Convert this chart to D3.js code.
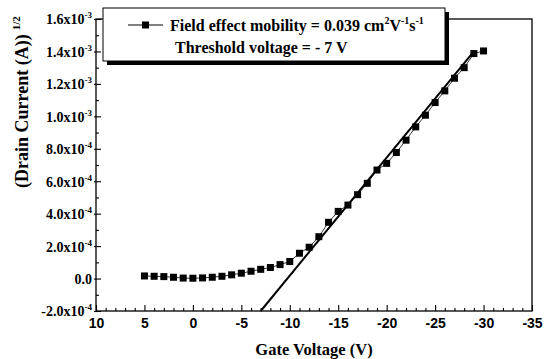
<!DOCTYPE html>
<html>
<head>
<meta charset="utf-8">
<script src="https://cdn.jsdelivr.net/npm/d3@7"></script>
<style>
  body { margin: 0; background: #fff; }
  .serif { font-family: 'Liberation Serif', 'Times New Roman', Times, 'DejaVu Serif', serif; font-weight: bold; }
  .sans { font-family: 'Liberation Sans', Arial, sans-serif; font-weight: bold; }
</style>
</head>
<body>
<div id="container"></div>
<script>
const width = 551;
const height = 359;

// measured points: gate voltage (V) vs sqrt of drain current
const gateVoltage = [5, 4, 3, 2, 1, 0, -1, -2, -3, -4, -5, -6, -7, -8, -9, -10, -11, -12,
  -13, -14, -15, -16, -17, -18, -19, -20, -21, -22, -23, -24, -25, -26, -27, -28, -29, -30];
const sqrtCurrent = [1.6e-5, 1.4e-5, 1.2e-5, 8e-6, 3e-6, 2e-6, 4e-6, 8e-6, 1.4e-5, 2.3e-5,
  3.3e-5, 4.5e-5, 5.7e-5, 6.8e-5, 8.6e-5, 1.05e-4, 1.56e-4, 1.93e-4, 2.58e-4, 3.47e-4,
  4.14e-4, 4.53e-4, 5.17e-4, 5.87e-4, 6.69e-4, 7.1e-4, 7.77e-4, 8.53e-4, 9.35e-4, 1.007e-3,
  1.085e-3, 1.157e-3, 1.235e-3, 1.3e-3, 1.387e-3, 1.403e-3];

// linear fit (threshold extraction)
const fitVoltage = [-7, -29];
const fitCurrent = [-2e-4, 1.4e-3];

const xTicks = [10, 5, 0, -5, -10, -15, -20, -25, -30, -35];
const xTickLabels = ['10', '5', '0', '-5', '-10', '-15', '-20', '-25', '-30', '-35'];
const yTicks = [-2e-4, 0, 2e-4, 4e-4, 6e-4, 8e-4, 1e-3, 1.2e-3, 1.4e-3, 1.6e-3];
const yTickMantissa = ['-2.0x10', '0.0', '2.0x10', '4.0x10', '6.0x10', '8.0x10', '1.0x10', '1.2x10', '1.4x10', '1.6x10'];
const yTickExponent = ['-4', '', '-4', '-4', '-4', '-4', '-3', '-3', '-3', '-3'];

const x = d3.scaleLinear().domain([10, -35]).range([96, 532]);
const y = d3.scaleLinear().domain([-2e-4, 1.6e-3]).range([311, 19]);

const svg = d3.select('#container')
  .append('svg')
  .attr('width', width)
  .attr('height', height);

// frame
svg.append('rect')
  .attr('x', x(10)).attr('y', y(1.6e-3))
  .attr('width', x(-35) - x(10)).attr('height', y(-2e-4) - y(1.6e-3))
  .attr('fill', 'none').attr('stroke', '#000').attr('stroke-width', 1.3);

// x axis
const xAxis = svg.append('g')
  .attr('transform', `translate(0,${y(-2e-4)})`)
  .call(d3.axisBottom(x).tickValues(d3.range(10, -36, -1)).tickSize(-3).tickSizeOuter(0).tickFormat(''));
xAxis.select('.domain').remove();
xAxis.selectAll('.tick line').attr('stroke-width', 1.1);
xAxis.selectAll('.tick').filter(d => xTicks.includes(d)).select('line').attr('y2', -6);
xAxis.selectAll('.tick').filter(d => xTicks.includes(d)).select('text')
  .text(d => xTickLabels[xTicks.indexOf(d)])
  .attr('class', 'sans')
  .attr('y', 7)
  .attr('dy', '0.71em')
  .attr('font-size', 14)
  .attr('fill', '#000');

// y axis
const yAxis = svg.append('g')
  .attr('transform', `translate(${x(10)},0)`)
  .call(d3.axisLeft(y).tickValues(d3.range(-2e-4, 1.6e-3 + 1e-9, 1e-4)).tickSize(-3).tickSizeOuter(0).tickFormat(''));
yAxis.select('.domain').remove();
yAxis.selectAll('.tick line').attr('stroke-width', 1.1);
const majorY = yAxis.selectAll('.tick')
  .filter(d => yTicks.some(t => Math.abs(t - d) < 1e-9));
majorY.select('line').attr('x1', -2).attr('x2', 5);
majorY.select('text').each(function(d) {
  const i = yTicks.findIndex(t => Math.abs(t - d) < 1e-9);
  const t = d3.select(this)
    .text(null)
    .attr('class', 'serif')
    .attr('x', -4)
    .attr('dy', '0.35em')
    .attr('text-anchor', 'end')
    .attr('font-size', 14)
    .attr('fill', '#000');
  t.append('tspan').text(yTickMantissa[i]);
  if (yTickExponent[i]) {
    t.append('tspan').attr('dy', -6).attr('font-size', 9).text(yTickExponent[i]);
  }
});

// fit line
svg.append('line')
  .attr('x1', x(fitVoltage[0])).attr('y1', y(fitCurrent[0]))
  .attr('x2', x(fitVoltage[1])).attr('y2', y(fitCurrent[1]))
  .attr('stroke', '#000').attr('stroke-width', 2);

// data line + square markers
const points = gateVoltage.map((v, i) => [v, sqrtCurrent[i]]);
svg.append('path')
  .datum(points)
  .attr('fill', 'none')
  .attr('stroke', '#000')
  .attr('stroke-width', 0.8)
  .attr('d', d3.line().x(d => x(d[0])).y(d => y(d[1])));

svg.append('g')
  .selectAll('rect')
  .data(points)
  .join('rect')
  .attr('x', d => x(d[0]) - 3.5)
  .attr('y', d => y(d[1]) - 3.5)
  .attr('width', 7)
  .attr('height', 7)
  .attr('fill', '#000');

// legend box with shadow
const legend = svg.append('g');
legend.append('rect')
  .attr('x', 107).attr('y', 12).attr('width', 342).attr('height', 53)
  .attr('fill', '#000');
legend.append('rect')
  .attr('x', 103).attr('y', 8).attr('width', 342).attr('height', 53)
  .attr('fill', '#fff').attr('stroke', '#000').attr('stroke-width', 1);
legend.append('line')
  .attr('x1', 128).attr('x2', 163).attr('y1', 25).attr('y2', 25)
  .attr('stroke', '#000').attr('stroke-width', 1);
legend.append('rect')
  .attr('x', 142).attr('y', 21.5).attr('width', 7).attr('height', 7)
  .attr('fill', '#000');

const l1 = legend.append('text')
  .attr('class', 'serif')
  .attr('x', 170).attr('y', 31)
  .attr('font-size', 16)
  .attr('fill', '#000');
l1.append('tspan').text('Field effect mobility = 0.039 cm');
l1.append('tspan').attr('dy', -7).attr('font-size', 10).text('2');
l1.append('tspan').attr('dy', 7).text('V');
l1.append('tspan').attr('dy', -7).attr('font-size', 10).text('-1');
l1.append('tspan').attr('dy', 7).text('s');
l1.append('tspan').attr('dy', -7).attr('font-size', 10).text('-1');

legend.append('text')
  .attr('class', 'serif')
  .attr('x', 175).attr('y', 53)
  .attr('font-size', 16)
  .attr('fill', '#000')
  .text('Threshold voltage = - 7 V');

// axis titles
svg.append('text')
  .attr('class', 'serif')
  .attr('x', 314).attr('y', 355)
  .attr('text-anchor', 'middle')
  .attr('font-size', 16.5)
  .attr('fill', '#000')
  .text('Gate Voltage (V)');

const yt = svg.append('text')
  .attr('class', 'serif')
  .attr('transform', 'translate(28,188) rotate(-90)')
  .attr('font-size', 18)
  .attr('fill', '#000');
yt.append('tspan').text('(Drain Current (A))');
yt.append('tspan').attr('dx', 4).attr('dy', -8).attr('font-size', 11).text('1/2');
</script>
</body>
</html>
